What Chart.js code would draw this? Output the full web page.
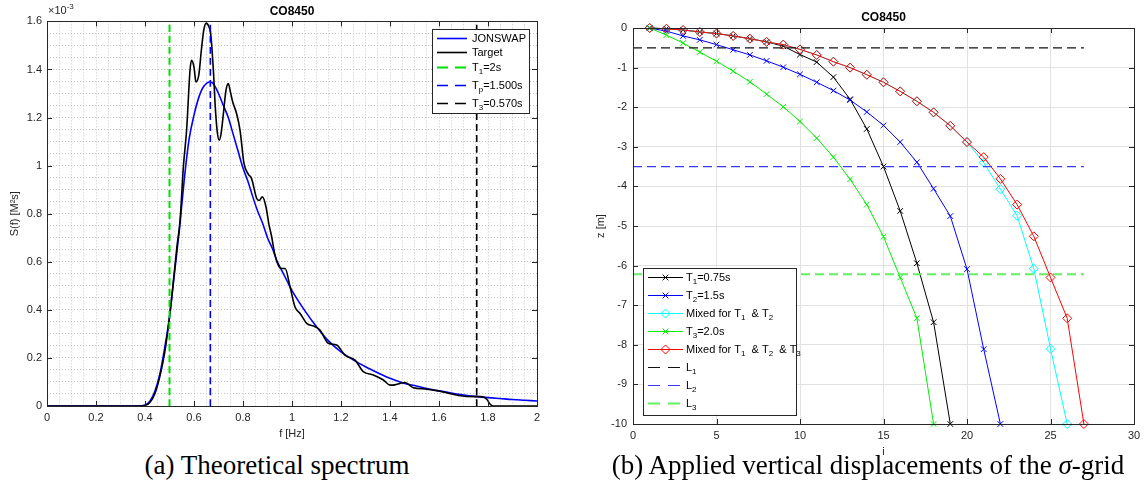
<!DOCTYPE html>
<html>
<head>
<meta charset="utf-8">
<title>CO8450</title>
<script src="https://cdn.jsdelivr.net/npm/chart.js@4.4.1/dist/chart.umd.min.js"></script>
<style>
  body { margin: 0; background: #fff; }
  #page { position: relative; width: 1146px; height: 499px; overflow: hidden; }
  canvas { position: absolute; top: 0; }
  #spectrum { left: 0; }
  #sigma { left: 570px; }
  .caption {
    position: absolute; top: 450px; transform: translateX(-50%);
    font-family: 'Liberation Serif', 'DejaVu Serif', serif; font-size: 27px;
    color: #000; white-space: nowrap;
  }
</style>
</head>
<body>
<div id="page">
  <canvas id="spectrum" width="570" height="450"></canvas>
  <canvas id="sigma" width="576" height="460"></canvas>
  <div class="caption" style="left:277px">(a) Theoretical spectrum</div>
  <div class="caption" style="left:868px">(b) Applied vertical displacements of the <i>σ</i>-grid</div>
</div>
<script>
// ---- spectrum, S(f) in units of 1e-3 M^2 s ----
const fJonswap = [0, 0.1, 0.2, 0.3, 0.36, 0.38, 0.40, 0.42, 0.44, 0.46, 0.48, 0.50, 0.52, 0.54, 0.56, 0.58, 0.60, 0.62, 0.64, 0.665,
  0.68, 0.70, 0.72, 0.74, 0.76, 0.78, 0.80, 0.82, 0.84, 0.86, 0.88, 0.90, 0.92, 0.94, 0.96, 0.98, 1.00,
  1.05, 1.10, 1.15, 1.20, 1.25, 1.30, 1.35, 1.40, 1.45, 1.50, 1.55, 1.60, 1.65, 1.70, 1.75, 1.80, 1.85, 1.90, 1.95, 2.00];
const sJonswap = [0, 0, 0, 0, 0, 0.001, 0.004, 0.02, 0.06, 0.13, 0.24, 0.37, 0.55, 0.73, 0.94, 1.11, 1.21, 1.285, 1.33, 1.348,
  1.34, 1.30, 1.25, 1.20, 1.13, 1.06, 0.99, 0.935, 0.87, 0.81, 0.76, 0.70, 0.655, 0.60, 0.56, 0.52, 0.48,
  0.40, 0.33, 0.27, 0.225, 0.192, 0.163, 0.138, 0.115, 0.097, 0.085, 0.073, 0.063, 0.054, 0.046, 0.040, 0.035, 0.031, 0.027, 0.024, 0.021];

const fTarget = [0, 0.2, 0.38, 0.40, 0.42, 0.44, 0.46, 0.48, 0.50, 0.52,
  0.53, 0.543, 0.557, 0.57, 0.584, 0.59, 0.60, 0.608, 0.62, 0.63,
  0.64, 0.65, 0.66, 0.668, 0.68, 0.686, 0.695, 0.703, 0.71, 0.72,
  0.73, 0.74, 0.75, 0.758, 0.774, 0.788, 0.804, 0.822, 0.835, 0.856,
  0.866, 0.879, 0.894, 0.905, 0.917, 0.930, 0.944, 0.958, 0.972, 0.992,
  1.012, 1.033, 1.060, 1.094, 1.114, 1.148, 1.182, 1.216, 1.257, 1.291,
  1.332, 1.373, 1.400, 1.420, 1.441, 1.461, 1.495, 1.543, 1.591, 1.631,
  1.679, 1.750, 1.774, 1.795, 1.808, 1.820, 1.85, 2.0];
const sTarget = [0, 0, 0, 0.002, 0.015, 0.05, 0.12, 0.22, 0.37, 0.56,
  0.66, 0.77, 1.00, 1.15, 1.40, 1.438, 1.41, 1.348, 1.38, 1.48,
  1.565, 1.593, 1.58, 1.549, 1.38, 1.258, 1.14, 1.106, 1.13, 1.216,
  1.31, 1.341, 1.30, 1.265, 1.216, 1.147, 1.009, 0.964, 0.946, 0.863,
  0.855, 0.870, 0.828, 0.76, 0.704, 0.63, 0.586, 0.572, 0.572, 0.496,
  0.413, 0.385, 0.344, 0.330, 0.316, 0.261, 0.254, 0.212, 0.191, 0.143,
  0.129, 0.108, 0.087, 0.088, 0.094, 0.098, 0.076, 0.071, 0.064, 0.055,
  0.044, 0.039, 0.039, 0.028, 0.008, 0, 0, 0];

// frequencies of the three periods: 1/2s, 1/1.5s, 1/0.57s
const periodLabels = ['T_1=2s', 'T_p=1.500s', 'T_3=0.570s'];
const periodFreqs = [0.5, 0.6667, 1.754];
const periodColors = ['#00e000', '#0000ff', '#000000'];

// ---- sigma-grid layer depths z [m], layer index i = 1..n ----
const zT1 = [0, -0.02, -0.05, -0.10, -0.14, -0.20, -0.27, -0.35, -0.46, -0.67, -0.86, -1.24, -1.80, -2.55, -3.50, -4.62, -5.94, -7.43, -10];
const zT2 = [0, -0.08, -0.20, -0.30, -0.42, -0.55, -0.68, -0.83, -0.99, -1.17, -1.37, -1.58, -1.82, -2.12, -2.46, -2.88, -3.39, -4.06, -4.75, -6.09, -8.11, -10];
const zMix12 = [0, -0.02, -0.05, -0.10, -0.14, -0.20, -0.27, -0.35, -0.42, -0.54, -0.68, -0.85, -1.00, -1.18, -1.37, -1.60, -1.85, -2.13, -2.47, -2.88, -3.40, -4.07, -4.74, -6.08, -8.10, -10];
const zT3 = [0, -0.18, -0.38, -0.61, -0.84, -1.09, -1.36, -1.67, -1.99, -2.36, -2.78, -3.26, -3.82, -4.46, -5.27, -6.30, -7.33, -10];
const zMix123 = [0, -0.02, -0.05, -0.10, -0.14, -0.20, -0.27, -0.35, -0.42, -0.54, -0.68, -0.85, -1.00, -1.18, -1.37, -1.60, -1.85, -2.13, -2.47, -2.88, -3.26, -3.81, -4.46, -5.26, -6.30, -7.33, -10];
const levelLabels = ['L_1', 'L_2', 'L_3'];
const levelDepths = [-0.5, -3.5, -6.22];
const levelEnd = 27;

const FONT = "'Liberation Sans', Arial, Helvetica, sans-serif";
const AXIS = '#262626';
Chart.defaults.font.family = FONT;
Chart.defaults.font.size = 11;
Chart.defaults.color = AXIS;

// text with _x / _{..} subscripts and ^x / ^{..} superscripts
function drawRich(ctx, str, x, y, size, color) {
  const re = /([_^])(\{[^}]*\}|.)/g;
  const parts = [];
  let last = 0, m;
  while ((m = re.exec(str))) {
    if (m.index > last) parts.push({ t: str.slice(last, m.index), k: 0 });
    let t = m[2];
    if (t[0] === '{') t = t.slice(1, -1);
    parts.push({ t, k: m[1] === '_' ? 1 : -1 });
    last = re.lastIndex;
  }
  if (last < str.length) parts.push({ t: str.slice(last), k: 0 });
  ctx.textBaseline = 'middle';
  ctx.textAlign = 'left';
  ctx.fillStyle = color;
  let cx = x;
  for (const p of parts) {
    const fs = p.k ? Math.round(size * 0.75) : size;
    ctx.font = fs + 'px ' + FONT;
    ctx.fillText(p.t, cx, y + p.k * size * 0.42);
    cx += ctx.measureText(p.t).width;
  }
}

// box around the axes with inward tick marks, like a boxed plot
const framePlugin = {
  id: 'frame',
  afterDatasetsDraw(chart, args, o) {
    const { ctx, chartArea: a, scales: { x, y } } = chart;
    ctx.save();
    ctx.strokeStyle = AXIS;
    ctx.lineWidth = 1;
    ctx.beginPath();
    for (let v = x.min; v <= x.max + 1e-9; v += o.xStep) {
      const px = Math.round(x.getPixelForValue(v)) + 0.5;
      ctx.moveTo(px, a.bottom); ctx.lineTo(px, a.bottom - o.len);
      ctx.moveTo(px, a.top); ctx.lineTo(px, a.top + o.len);
    }
    for (let v = y.min; v <= y.max + 1e-9; v += o.yStep) {
      const py = Math.round(y.getPixelForValue(v)) + 0.5;
      ctx.moveTo(a.left, py); ctx.lineTo(a.left + o.len, py);
      ctx.moveTo(a.right, py); ctx.lineTo(a.right - o.len, py);
    }
    ctx.stroke();
    ctx.strokeRect(Math.round(a.left) + 0.5, Math.round(a.top) + 0.5, Math.round(a.width), Math.round(a.height));
    if (o.exponent) drawRich(ctx, o.exponent, a.left + 1, a.top - 10, 11, AXIS);
    ctx.restore();
  }
};

// legend drawn as a boxed panel inside the plot area
const boxLegend = {
  id: 'boxLegend',
  afterDraw(chart, args, o) {
    const { ctx, chartArea: a } = chart;
    const items = chart.data.datasets.filter(d => d.label);
    const rows = items.map(d => (/_/.test(d.label) ? 18 : 14.5));
    const h = o.padTop + rows.reduce((s, r) => s + r, 0);
    const left = o.corner === 'topRight' ? a.right - o.dx - o.width : a.left + o.dx;
    const top = o.corner === 'topRight' ? a.top + o.dy : a.bottom - o.dy - h;
    ctx.save();
    ctx.fillStyle = '#fff';
    ctx.fillRect(left, top, o.width, h);
    ctx.strokeStyle = AXIS;
    ctx.lineWidth = 1;
    ctx.strokeRect(Math.round(left) + 0.5, Math.round(top) + 0.5, o.width, Math.round(h));
    let yy = top + o.padTop;
    items.forEach((d, i) => {
      const cy = Math.round(yy + 7.25) + 0.5;
      ctx.strokeStyle = d.borderColor;
      ctx.lineWidth = d.borderWidth;
      ctx.setLineDash(d.legendDash || d.borderDash || []);
      ctx.beginPath();
      ctx.moveTo(left + 5, cy);
      ctx.lineTo(left + 5 + o.sample, cy);
      ctx.stroke();
      ctx.setLineDash([]);
      if (d.pointRadius) {
        ctx.lineWidth = d.pointBorderWidth;
        ctx.strokeStyle = d.borderColor;
        ctx.fillStyle = 'rgba(0,0,0,0)';
        Chart.helpers.drawPoint(ctx, { pointStyle: d.pointStyle, radius: d.pointRadius, borderWidth: d.pointBorderWidth, rotation: 0 }, left + 5 + o.sample / 2, cy);
      }
      drawRich(ctx, d.label, left + o.textX, cy, 11, '#000');
      yy += rows[i];
    });
    ctx.restore();
  }
};

const tickFmt = v => String(Math.round(v * 10) / 10);
const isMajor = (v, step) => Math.abs(v / step - Math.round(v / step)) < 1e-6;
const pairs = (xs, ys) => xs.map((x, i) => ({ x, y: ys[i] }));
const byIndex = zs => zs.map((z, i) => ({ x: i + 1, y: z }));

// ---- (a) spectrum ----
const spectrumSets = [
  { label: 'JONSWAP', data: pairs(fJonswap, sJonswap), borderColor: '#0000ff', borderWidth: 1.6, order: 5 },
  { label: 'Target', data: pairs(fTarget, sTarget), borderColor: '#000000', borderWidth: 1.6, order: 4 }
];
periodFreqs.forEach((f, i) => {
  spectrumSets.push({
    label: periodLabels[i],
    data: [{ x: f, y: 0 }, { x: f, y: 1.6 }],
    borderColor: periodColors[i],
    borderWidth: i === 0 ? 2 : 1.6,
    borderDash: [7, 4],
    legendDash: [11, 7],
    order: 3 - i
  });
});

new Chart(document.getElementById('spectrum'), {
  type: 'line',
  data: { datasets: spectrumSets },
  options: {
    responsive: false,
    animation: false,
    events: [],
    layout: { padding: { left: 0, right: 33, top: 0, bottom: 0 } },
    elements: { point: { radius: 0 }, line: { cubicInterpolationMode: 'monotone' } },
    datasets: { line: { clip: false } },
    scales: {
      x: {
        type: 'linear', min: 0, max: 2,
        ticks: { stepSize: 0.05, autoSkip: false, maxRotation: 0, padding: 5, callback: v => (isMajor(v, 0.2) ? tickFmt(v) : '') },
        grid: { color: '#c4c4c4', drawTicks: false },
        border: { display: false, dash: [1, 2] },
        title: { display: true, text: 'f [Hz]', padding: { top: 0, bottom: 9 } },
        afterFit: s => { s.height = 44; }
      },
      y: {
        type: 'linear', min: 0, max: 1.6,
        ticks: { stepSize: 0.05, autoSkip: false, padding: 5, callback: v => (isMajor(v, 0.2) ? tickFmt(v) : '') },
        grid: { color: '#c4c4c4', drawTicks: false },
        border: { display: false, dash: [1, 2] },
        title: { display: true, text: 'S(f) [M²s]', padding: { top: 8, bottom: 0 } },
        afterFit: s => { s.width = 47; }
      }
    },
    plugins: {
      legend: { display: false },
      tooltip: { enabled: false },
      title: { display: true, text: 'CO8450', fullSize: false, color: '#000', font: { size: 12, weight: 'bold' }, padding: { top: 4, bottom: 3 } },
      frame: { xStep: 0.2, yStep: 0.2, len: 5, exponent: '×10^{-3}' },
      boxLegend: { corner: 'topRight', dx: 8, dy: 8, width: 97, padTop: 1, sample: 30, textX: 40 }
    }
  },
  plugins: [framePlugin, boxLegend]
});

// ---- (b) sigma-grid displacements ----
const cross = { pointStyle: 'crossRot', pointRadius: 4, pointBorderWidth: 1 };
const diamond = { pointStyle: 'rectRot', pointRadius: 4.5, pointBorderWidth: 1, pointBackgroundColor: 'rgba(0,0,0,0)' };
const sigmaSets = [
  { label: 'T_1=0.75s', data: byIndex(zT1), borderColor: '#000000', ...cross, order: 8 },
  { label: 'T_2=1.5s', data: byIndex(zT2), borderColor: '#0000ff', ...cross, order: 7 },
  { label: 'Mixed for T_1  & T_2', data: byIndex(zMix12), borderColor: '#00ffff', ...diamond, order: 6 },
  { label: 'T_3=2.0s', data: byIndex(zT3), borderColor: '#00ee00', ...cross, order: 5 },
  { label: 'Mixed for T_1  & T_2  & T_3', data: byIndex(zMix123), borderColor: '#ff0000', ...diamond, order: 4 }
];
const levelColors = ['#111111', '#3a3aff', '#66ee66'];
levelDepths.forEach((z, i) => {
  sigmaSets.push({
    label: levelLabels[i],
    data: [{ x: 0, y: z }, { x: levelEnd, y: z }],
    borderColor: levelColors[i],
    borderWidth: i === 2 ? 2 : 1.2,
    borderDash: [9, 5],
    legendDash: [12, 8],
    pointRadius: 0,
    order: 3 - i
  });
});
sigmaSets.forEach(d => { d.borderWidth = d.borderWidth || 1; d.pointBorderColor = d.borderColor; });

new Chart(document.getElementById('sigma'), {
  type: 'line',
  data: { datasets: sigmaSets },
  options: {
    responsive: false,
    animation: false,
    events: [],
    layout: { padding: { left: 0, right: 12, top: 0, bottom: 0 } },
    datasets: { line: { clip: false, tension: 0 } },
    scales: {
      x: {
        type: 'linear', min: 0, max: 30,
        ticks: { stepSize: 5, maxRotation: 0, padding: 5, callback: v => String(v) },
        grid: { color: '#e2e2e2', drawTicks: false },
        border: { display: false },
        title: { display: true, text: 'i', padding: { top: 0, bottom: 1 } },
        afterFit: s => { s.height = 36; }
      },
      y: {
        type: 'linear', min: -10, max: 0,
        ticks: { stepSize: 1, padding: 6, callback: v => String(v) },
        grid: { color: '#e2e2e2', drawTicks: false },
        border: { display: false },
        title: { display: true, text: 'z [m]', padding: { top: 24, bottom: 0 } },
        afterFit: s => { s.width = 63; }
      }
    },
    plugins: {
      legend: { display: false },
      tooltip: { enabled: false },
      title: { display: true, text: 'CO8450', fullSize: false, color: '#000', font: { size: 12, weight: 'bold' }, padding: { top: 10, bottom: 3.6 } },
      frame: { xStep: 5, yStep: 1, len: 5 },
      boxLegend: { corner: 'bottomLeft', dx: 10, dy: 10, width: 153, padTop: 2.5, sample: 35, textX: 43 }
    }
  },
  plugins: [framePlugin, boxLegend]
});
</script>
</body>
</html>
